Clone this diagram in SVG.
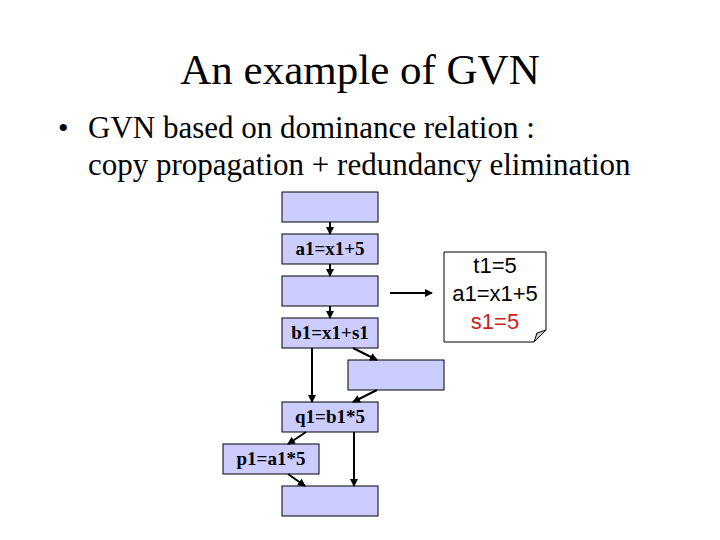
<svg xmlns="http://www.w3.org/2000/svg" width="720" height="540" viewBox="0 0 720 540">
<style>
.n{fill:#ccccff;stroke:#000;stroke-width:1}
.t{font-family:"Liberation Serif",serif;font-weight:bold;font-size:19px;text-anchor:middle}
.c{stroke:#000;stroke-width:2;fill:none;marker-end:url(#a)}
.s{font-family:"Liberation Serif",serif;fill:#000}
.nt{font-family:"Liberation Sans",sans-serif;font-size:22px;text-anchor:middle}
</style>
<defs><marker id="a" markerWidth="8" markerHeight="8" refX="7" refY="4" orient="auto" markerUnits="userSpaceOnUse"><path d="M0,0L8,4L0,8z" fill="#000"/></marker></defs>
<rect width="720" height="540" fill="#fff"/>
<text class="s" x="360" y="84" font-size="43" text-anchor="middle">An example of GVN</text>
<text class="s" x="58" y="138" font-size="30">•</text>
<text class="s" x="88" y="138" font-size="31">GVN based on dominance relation :</text>
<text class="s" x="88" y="175" font-size="31">copy propagation + redundancy elimination</text>
<g id="b1"><rect class="n" x="282" y="192" width="96" height="30"/></g>
<g id="b2"><rect class="n" x="282" y="234" width="96" height="30"/><text class="t" x="330" y="255">a1=x1+5</text></g>
<g id="b3"><rect class="n" x="282" y="276" width="96" height="30"/></g>
<g id="b4"><rect class="n" x="282" y="318" width="96" height="30"/><text class="t" x="330" y="339">b1=x1+s1</text></g>
<g id="b5"><rect class="n" x="348" y="360" width="96" height="30"/></g>
<g id="b6"><rect class="n" x="282" y="402" width="96" height="30"/><text class="t" x="330" y="423">q1=b1*5</text></g>
<g id="b7"><rect class="n" x="223" y="444" width="96" height="30"/><text class="t" x="271" y="465">p1=a1*5</text></g>
<g id="b8"><rect class="n" x="282" y="486" width="96" height="30"/></g>
<g id="note">
<path d="M444,252H546V330L534,342H444Z" fill="#fff" stroke="#000"/>
<path d="M534,342L537,333L546,330Z" fill="#ccc" stroke="#000"/>
<text class="nt" x="495" y="273">t1=5</text>
<text class="nt" x="495" y="301">a1=x1+5</text>
<text class="nt" x="495" y="329" fill="#cc2222">s1=5</text>
</g>
<g id="connectors">
<path class="c" d="M330,222V234"/>
<path class="c" d="M330,264V276"/>
<path class="c" d="M330,306V318"/>
<path class="c" d="M390,293H432"/>
<path class="c" d="M312,348V402"/>
<path class="c" d="M353,348L377,360"/>
<path class="c" d="M377,390L353,402"/>
<path class="c" d="M306,432L288,444"/>
<path class="c" d="M354,432V486"/>
<path class="c" d="M288,474L305,486"/>
</g>
</svg>
